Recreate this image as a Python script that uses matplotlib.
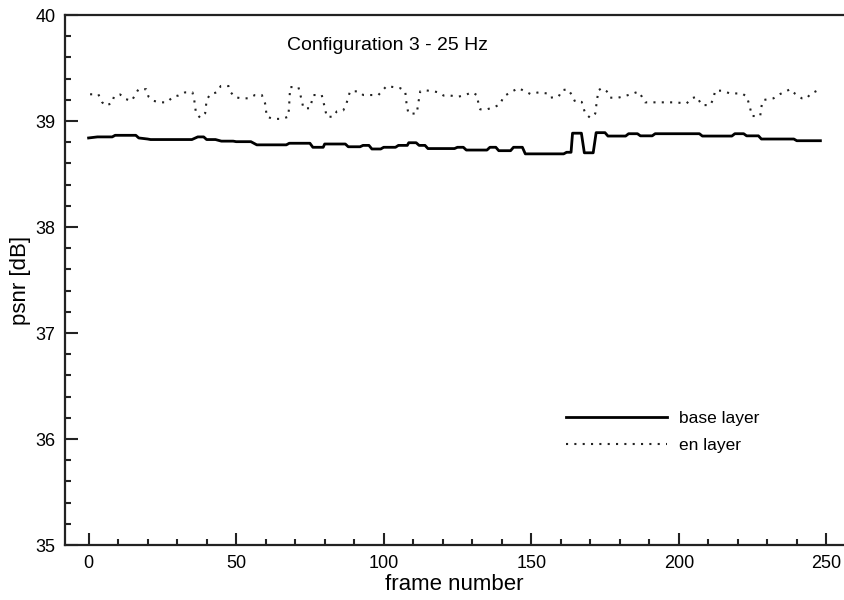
"""
plot.py

PSNR per frame for base and enhancement layer, configuration 3 at 25 Hz.
"""

import matplotlib
matplotlib.use("Agg")
import matplotlib.pyplot as plt
from matplotlib.ticker import MultipleLocator

# base layer: psnr breakpoints
base_frames = [0, 3, 8, 9, 16, 17, 20, 21, 35, 37, 39, 40, 43, 45, 49, 50, 55, 57, 67, 68,
               75, 76, 79.5, 80, 87, 88, 92, 93, 95, 96, 99, 100, 104, 105, 108, 108.5, 111,
               112, 114, 115, 124, 125, 127, 128, 135, 136, 138, 139, 143, 144, 147, 148,
               161, 162, 163.5, 164, 167, 168, 171, 172, 175, 176, 182, 183, 186, 187, 191,
               192, 207, 208, 218, 219, 222, 223, 227, 228, 239, 240, 248]
base_psnr = [38.84, 38.85, 38.85, 38.865, 38.865, 38.84, 38.83, 38.825, 38.825, 38.85,
             38.85, 38.825, 38.825, 38.81, 38.81, 38.805, 38.805, 38.775, 38.775, 38.79,
             38.79, 38.752, 38.752, 38.783, 38.783, 38.757, 38.757, 38.77, 38.77, 38.736,
             38.736, 38.752, 38.752, 38.77, 38.77, 38.795, 38.795, 38.77, 38.77, 38.74,
             38.74, 38.752, 38.752, 38.726, 38.726, 38.752, 38.752, 38.72, 38.72, 38.752,
             38.752, 38.69, 38.69, 38.705, 38.705, 38.885, 38.885, 38.70, 38.70, 38.89,
             38.89, 38.858, 38.858, 38.88, 38.88, 38.86, 38.86, 38.88, 38.88, 38.858,
             38.858, 38.88, 38.88, 38.86, 38.86, 38.83, 38.83, 38.814, 38.814]

# enhancement layer
en_frames = [0.5, 3.3, 4.5, 5.6, 7.9, 8.6, 10.7, 12.4, 14.6, 16.9, 19.5, 20.3, 22, 24.2,
             26.5, 28.7, 30.4, 32.7, 35.2, 35.8, 36.4, 37.8, 39.5, 40, 41.2, 43.4, 44.8,
             47.4, 48.2, 49.6, 51.9, 54.1, 56.4, 58.7, 59.8, 60.4, 62.6, 65.4, 67.7, 68,
             68.3, 71.1, 72.2, 72.8, 75, 76.2, 79, 80.1, 80.7, 82.9, 84.1, 86.3, 87.4,
             88.6, 91.4, 93.1, 98.2, 101, 105.6, 107.3, 107.8, 108.4, 111.2, 111.8, 112.4,
             114, 116.9, 118.6, 120.3, 122.5, 125.4, 127.6, 129.9, 131.6, 132.1, 132.7,
             135, 137.8, 139.5, 140.6, 142.9, 145.7, 149.7, 152.5, 155.4, 156.5, 159.3,
             160.4, 162.4, 163.8, 164.9, 167.1, 168.3, 170, 171.7, 172.2, 172.8, 173.9,
             175.6, 176.7, 179.5, 181.8, 184.1, 186.3, 187.5, 188.6, 193.7, 198.2, 202.7,
             204.4, 206.1, 207.8, 210.7, 211.8, 212.3, 214.6, 217.4, 221.4, 223.1, 224.2,
             224.8, 227.6, 228.2, 228.7, 232.1, 234.4, 237.8, 239.5, 241.7, 243.4, 244.6,
             246.9, 248.6]
en_psnr = [39.252, 39.252, 39.18, 39.145, 39.167, 39.23, 39.25, 39.208, 39.19, 39.30, 39.30,
           39.23, 39.19, 39.176, 39.176, 39.23, 39.24, 39.27, 39.27, 39.198, 39.073, 39.031,
           39.073, 39.198, 39.252, 39.27, 39.33, 39.33, 39.27, 39.224, 39.214, 39.214,
           39.245, 39.245, 39.167, 39.04, 39.02, 39.02, 39.04, 39.167, 39.32, 39.32, 39.198,
           39.12, 39.12, 39.245, 39.245, 39.12, 39.04, 39.04, 39.09, 39.10, 39.167, 39.28,
           39.28, 39.245, 39.245, 39.33, 39.31, 39.28, 39.15, 39.07, 39.07, 39.18, 39.28,
           39.29, 39.28, 39.27, 39.24, 39.24, 39.23, 39.245, 39.27, 39.245, 39.167, 39.11,
           39.11, 39.135, 39.158, 39.23, 39.27, 39.31, 39.255, 39.27, 39.26, 39.22, 39.23,
           39.29, 39.30, 39.245, 39.18, 39.18, 39.07, 39.03, 39.07, 39.18, 39.29, 39.31,
           39.28, 39.22, 39.22, 39.236, 39.255, 39.277, 39.23, 39.176, 39.176, 39.176,
           39.167, 39.214, 39.23, 39.15, 39.15, 39.214, 39.286, 39.286, 39.26, 39.26,
           39.23, 39.12, 39.047, 39.047, 39.167, 39.198, 39.214, 39.255, 39.30, 39.255,
           39.214, 39.214, 39.255, 39.286, 39.286]

plt.rcParams["font.family"] = ["Liberation Sans", "DejaVu Sans"]

fig = plt.figure(figsize=(8.44, 6), dpi=100)
ax = fig.add_axes([65 / 844, 55 / 600, 779 / 844, 530 / 600])

ax.plot(base_frames, base_psnr, color="black", lw=2.0, label="base layer")
ax.plot(en_frames, en_psnr, color="#222222", lw=1.5, linestyle=(0, (1, 3.0)), label="en layer")

ax.set_xlim(-8, 256)
ax.set_ylim(35, 40)
ax.xaxis.set_major_locator(MultipleLocator(50))
ax.xaxis.set_minor_locator(MultipleLocator(10))
ax.yaxis.set_major_locator(MultipleLocator(1))
ax.yaxis.set_minor_locator(MultipleLocator(0.2))
ax.tick_params(which="both", direction="in", width=1.5, labelsize=13, top=False, right=False,
               color="#222222")
ax.tick_params(axis="x", which="major", length=9, pad=7)
ax.tick_params(axis="y", which="major", length=9, pad=7)
ax.tick_params(which="minor", length=4.5)
for side in ["left", "bottom", "top"]:
    ax.spines[side].set_linewidth(1.6)
    ax.spines[side].set_color("#222222")
ax.spines["right"].set_visible(False)

ax.set_xlabel("frame number", fontsize=16, labelpad=2)
ax.set_ylabel("psnr [dB]", fontsize=16, labelpad=3)
ax.text(0.285, 0.943, "Configuration 3 - 25 Hz", transform=ax.transAxes,
        fontsize=14, va="center", ha="left")

ax.legend(loc="upper left", bbox_to_anchor=(566 / 844, 1 - 411 / 600),
          bbox_transform=fig.transFigure, frameon=False, fontsize=12.5,
          handlelength=5.8, handletextpad=0.7, labelspacing=0.68,
          borderpad=0, borderaxespad=0)

plt.savefig("out.png", dpi=100)
plt.close()
